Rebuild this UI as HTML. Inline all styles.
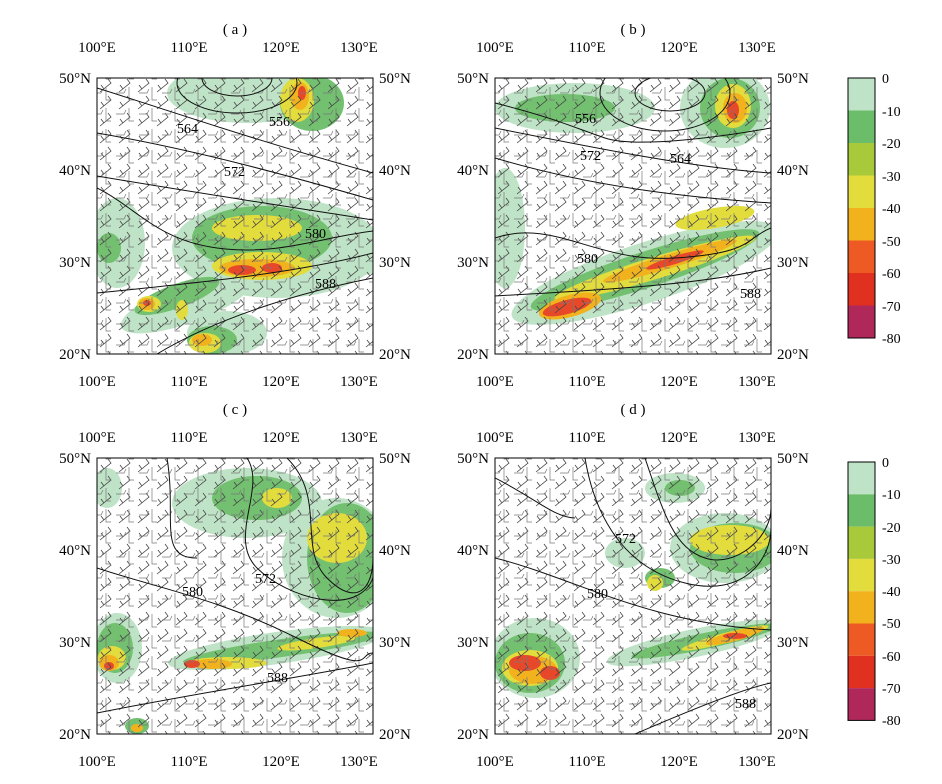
<!DOCTYPE html>
<html><head><meta charset="utf-8"><style>
body{margin:0;background:#fff}
svg{display:block;font-family:"Liberation Serif",serif}
</style></head><body>
<svg width="942" height="784" viewBox="0 0 942 784" xmlns="http://www.w3.org/2000/svg">
<defs>
<pattern id="barb" width="19" height="17" patternUnits="userSpaceOnUse">
<path d="M3,14 L14,5 L11,1 M7,11 L4,7" stroke="#444" stroke-width="0.8" fill="none"/>
</pattern>
<pattern id="barb2" width="23" height="21" patternUnits="userSpaceOnUse" patternTransform="translate(7,5)">
<path d="M2,4 L2,17 L7,17 M12,10 L20,10 L22,6" stroke="#777" stroke-width="0.7" fill="none"/>
</pattern>
<clipPath id="cp"><rect width="276" height="276"/></clipPath>
</defs>
<g fill="#000" font-size="15">
<text x="235" y="34" text-anchor="middle">( a )</text>
<text x="633" y="34" text-anchor="middle">( b )</text>
<text x="235" y="414" text-anchor="middle">( c )</text>
<text x="633" y="414" text-anchor="middle">( d )</text>
</g>

<!-- axis label groups -->
<g id="axA" font-size="15" fill="#000">
</g>

<!-- Panel A -->
<g transform="translate(97,78)">
<g clip-path="url(#cp)">
<rect width="276" height="276" fill="#fff"/>
<g fill="#bfe3c6"><ellipse cx="150" cy="15" rx="80" ry="30"/><ellipse cx="180" cy="170" rx="105" ry="50"/><ellipse cx="20" cy="165" rx="28" ry="45"/><ellipse cx="90" cy="225" rx="70" ry="20" transform="rotate(-20 90 225)"/><ellipse cx="245" cy="185" rx="45" ry="14"/><ellipse cx="130" cy="255" rx="40" ry="22"/></g>
<g fill="#72c070"><ellipse cx="215" cy="25" rx="32" ry="28"/><ellipse cx="165" cy="160" rx="70" ry="32"/><ellipse cx="80" cy="218" rx="45" ry="12" transform="rotate(-20 80 218)"/><ellipse cx="115" cy="262" rx="25" ry="14"/><ellipse cx="12" cy="170" rx="12" ry="15"/></g>
<g fill="#e2dc3d"><ellipse cx="200" cy="22" rx="17" ry="22"/><ellipse cx="160" cy="150" rx="45" ry="13"/><ellipse cx="165" cy="188" rx="50" ry="14"/><ellipse cx="52" cy="226" rx="12" ry="8"/><ellipse cx="108" cy="265" rx="16" ry="10"/><ellipse cx="85" cy="232" rx="6" ry="10"/></g>
<g fill="#f2b21e"><ellipse cx="203" cy="18" rx="9" ry="14"/><ellipse cx="160" cy="190" rx="38" ry="9"/><ellipse cx="50" cy="226" rx="8" ry="6"/><ellipse cx="105" cy="262" rx="10" ry="6"/></g>
<g fill="#e8482a"><ellipse cx="145" cy="192" rx="14" ry="5"/><ellipse cx="175" cy="190" rx="10" ry="5"/><ellipse cx="205" cy="15" rx="4" ry="7"/><ellipse cx="50" cy="225" rx="4" ry="3"/></g>
<rect width="276" height="276" fill="url(#barb)"/><rect width="276" height="276" fill="url(#barb2)"/>
<g fill="none" stroke="#111" stroke-width="1">
<ellipse cx="140" cy="5" rx="60" ry="30"/><ellipse cx="140" cy="0" rx="35" ry="18"/>
<path d="M0,10 C80,35 150,60 276,95"/><path d="M0,55 C100,72 200,100 276,122"/><path d="M0,98 C100,115 200,130 276,142"/>
<path d="M0,110 C40,130 60,162 120,170 S220,160 276,153"/><path d="M0,215 C100,205 200,195 276,175"/><path d="M60,276 C120,240 200,215 276,200"/>
</g>
<g font-size="14" fill="#000"><text x="80" y="55">564</text><text x="172" y="48">556</text><text x="127" y="98">572</text><text x="208" y="160">580</text><text x="218" y="210">588</text></g>
</g>
<rect width="276" height="276" fill="none" stroke="#000" stroke-width="1"/>
</g>

<!-- Panel B -->
<g transform="translate(495,78)">
<g clip-path="url(#cp)">
<g fill="#bfe3c6"><ellipse cx="80" cy="30" rx="80" ry="25"/><ellipse cx="230" cy="30" rx="45" ry="40"/><ellipse cx="150" cy="195" rx="140" ry="30" transform="rotate(-18 150 195)"/><ellipse cx="10" cy="150" rx="20" ry="60"/></g>
<g fill="#72c070"><ellipse cx="70" cy="30" rx="50" ry="14"/><ellipse cx="235" cy="30" rx="30" ry="30"/><ellipse cx="150" cy="192" rx="120" ry="18" transform="rotate(-18 150 192)"/></g>
<g fill="#e2dc3d"><ellipse cx="238" cy="28" rx="18" ry="22"/><ellipse cx="160" cy="190" rx="105" ry="11" transform="rotate(-17 160 190)"/><ellipse cx="220" cy="140" rx="40" ry="10" transform="rotate(-10 220 140)"/></g>
<g fill="#f2b21e"><ellipse cx="240" cy="30" rx="12" ry="15"/><ellipse cx="175" cy="183" rx="70" ry="7" transform="rotate(-17 175 183)"/><ellipse cx="75" cy="228" rx="32" ry="11" transform="rotate(-15 75 228)"/></g>
<g fill="#e8482a"><ellipse cx="72" cy="229" rx="25" ry="7" transform="rotate(-15 72 229)"/><ellipse cx="238" cy="32" rx="6" ry="9"/><ellipse cx="180" cy="182" rx="30" ry="4" transform="rotate(-17 180 182)"/></g>
<rect width="276" height="276" fill="url(#barb)"/><rect width="276" height="276" fill="url(#barb2)"/>
<g fill="none" stroke="#111" stroke-width="1">
<ellipse cx="175" cy="15" rx="35" ry="18"/><ellipse cx="170" cy="15" rx="65" ry="38"/>
<path d="M0,25 C60,40 80,50 110,60 S220,60 276,50"/><path d="M0,50 C100,70 200,90 276,95"/><path d="M0,80 C100,110 200,120 276,125"/>
<path d="M0,160 C60,140 100,185 180,180 S250,160 276,150"/><path d="M0,218 C100,212 200,208 276,190"/>
</g>
<g font-size="14" fill="#000"><text x="80" y="45">556</text><text x="175" y="85">564</text><text x="85" y="82">572</text><text x="82" y="185">580</text><text x="245" y="220">588</text></g>
</g>
<rect width="276" height="276" fill="none" stroke="#000" stroke-width="1"/>
</g>

<!-- Panel C -->
<g transform="translate(97,458)">
<g clip-path="url(#cp)">
<g fill="#bfe3c6"><ellipse cx="150" cy="45" rx="75" ry="35"/><ellipse cx="240" cy="100" rx="55" ry="60"/><ellipse cx="20" cy="190" rx="25" ry="35"/><ellipse cx="180" cy="190" rx="110" ry="16" transform="rotate(-8 180 190)"/><ellipse cx="10" cy="30" rx="15" ry="20"/></g>
<g fill="#72c070"><ellipse cx="160" cy="40" rx="45" ry="22"/><ellipse cx="250" cy="100" rx="40" ry="55"/><ellipse cx="18" cy="190" rx="18" ry="25"/><ellipse cx="185" cy="190" rx="100" ry="9" transform="rotate(-8 185 190)"/><ellipse cx="40" cy="268" rx="12" ry="8"/></g>
<g fill="#e2dc3d"><ellipse cx="240" cy="80" rx="30" ry="25"/><ellipse cx="180" cy="40" rx="15" ry="10"/><ellipse cx="15" cy="200" rx="14" ry="12"/><ellipse cx="130" cy="205" rx="40" ry="6"/><ellipse cx="220" cy="185" rx="40" ry="5" transform="rotate(-8 220 185)"/></g>
<g fill="#f2b21e"><ellipse cx="12" cy="205" rx="10" ry="8"/><ellipse cx="115" cy="206" rx="20" ry="5"/><ellipse cx="40" cy="270" rx="6" ry="4"/><ellipse cx="255" cy="175" rx="15" ry="4"/></g>
<g fill="#e8482a"><ellipse cx="95" cy="206" rx="8" ry="4"/><ellipse cx="12" cy="208" rx="5" ry="4"/></g>
<rect width="276" height="276" fill="url(#barb)"/><rect width="276" height="276" fill="url(#barb2)"/>
<g fill="none" stroke="#111" stroke-width="1">
<path d="M150,0 C170,30 130,80 160,110 S260,160 276,120"/><path d="M190,0 C230,40 200,90 230,120 S276,130 276,100"/>
<path d="M0,110 C60,130 120,140 200,180 S260,195 276,195"/><path d="M0,255 C100,235 200,220 276,205"/>
<path d="M70,0 C80,60 60,100 100,100"/>
</g>
<g font-size="14" fill="#000"><text x="85" y="138">580</text><text x="158" y="125">572</text><text x="170" y="224">588</text></g>
</g>
<rect width="276" height="276" fill="none" stroke="#000" stroke-width="1"/>
</g>

<!-- Panel D -->
<g transform="translate(495,458)">
<g clip-path="url(#cp)">
<g fill="#bfe3c6"><ellipse cx="230" cy="90" rx="55" ry="35"/><ellipse cx="40" cy="200" rx="45" ry="40"/><ellipse cx="200" cy="185" rx="90" ry="14" transform="rotate(-12 200 185)"/><ellipse cx="180" cy="30" rx="30" ry="15"/><ellipse cx="130" cy="95" rx="20" ry="15"/></g>
<g fill="#72c070"><ellipse cx="240" cy="90" rx="45" ry="25"/><ellipse cx="35" cy="205" rx="35" ry="30"/><ellipse cx="210" cy="183" rx="75" ry="8" transform="rotate(-12 210 183)"/><ellipse cx="185" cy="30" rx="15" ry="8"/><ellipse cx="165" cy="120" rx="15" ry="10"/></g>
<g fill="#e2dc3d"><ellipse cx="235" cy="82" rx="40" ry="15"/><ellipse cx="35" cy="210" rx="28" ry="18"/><ellipse cx="230" cy="180" rx="45" ry="5" transform="rotate(-15 230 180)"/><ellipse cx="160" cy="125" rx="8" ry="8"/></g>
<g fill="#f2b21e"><ellipse cx="38" cy="212" rx="24" ry="14"/><ellipse cx="240" cy="178" rx="30" ry="5" transform="rotate(-15 240 178)"/></g>
<g fill="#e8482a"><ellipse cx="30" cy="205" rx="16" ry="8"/><ellipse cx="55" cy="215" rx="10" ry="7"/><ellipse cx="240" cy="178" rx="12" ry="3"/></g>
<rect width="276" height="276" fill="url(#barb)"/><rect width="276" height="276" fill="url(#barb2)"/>
<g fill="none" stroke="#111" stroke-width="1">
<path d="M90,0 C100,60 130,110 190,125 S276,100 276,70"/><path d="M150,0 C170,60 180,90 210,100 S276,80 276,50"/>
<path d="M0,100 C80,120 150,165 276,172"/><path d="M140,276 C200,250 250,230 276,225"/><path d="M0,20 C40,40 60,60 80,60"/>
</g>
<g font-size="14" fill="#000"><text x="92" y="140">580</text><text x="120" y="85">572</text><text x="240" y="250">588</text></g>
</g>
<rect width="276" height="276" fill="none" stroke="#000" stroke-width="1"/>
</g>

<!-- Axis labels -->
<g font-size="15" fill="#000" text-anchor="middle">
<text x="97" y="52">100°E</text><text x="189" y="52">110°E</text><text x="281" y="52">120°E</text><text x="359" y="52">130°E</text>
<text x="97" y="386">100°E</text><text x="189" y="386">110°E</text><text x="281" y="386">120°E</text><text x="359" y="386">130°E</text>
<text x="495" y="52">100°E</text><text x="587" y="52">110°E</text><text x="679" y="52">120°E</text><text x="757" y="52">130°E</text>
<text x="495" y="386">100°E</text><text x="587" y="386">110°E</text><text x="679" y="386">120°E</text><text x="757" y="386">130°E</text>
<text x="97" y="442">100°E</text><text x="189" y="442">110°E</text><text x="281" y="442">120°E</text><text x="359" y="442">130°E</text>
<text x="97" y="766">100°E</text><text x="189" y="766">110°E</text><text x="281" y="766">120°E</text><text x="359" y="766">130°E</text>
<text x="495" y="442">100°E</text><text x="587" y="442">110°E</text><text x="679" y="442">120°E</text><text x="757" y="442">130°E</text>
<text x="495" y="766">100°E</text><text x="587" y="766">110°E</text><text x="679" y="766">120°E</text><text x="757" y="766">130°E</text>
</g>
<g font-size="15" fill="#000">
<g text-anchor="end">
<text x="91" y="83">50°N</text><text x="91" y="175">40°N</text><text x="91" y="267">30°N</text><text x="91" y="359">20°N</text>
<text x="489" y="83">50°N</text><text x="489" y="175">40°N</text><text x="489" y="267">30°N</text><text x="489" y="359">20°N</text>
<text x="91" y="463">50°N</text><text x="91" y="555">40°N</text><text x="91" y="647">30°N</text><text x="91" y="739">20°N</text>
<text x="489" y="463">50°N</text><text x="489" y="555">40°N</text><text x="489" y="647">30°N</text><text x="489" y="739">20°N</text>
</g>
<text x="379" y="83">50°N</text><text x="379" y="175">40°N</text><text x="379" y="267">30°N</text><text x="379" y="359">20°N</text>
<text x="777" y="83">50°N</text><text x="777" y="175">40°N</text><text x="777" y="267">30°N</text><text x="777" y="359">20°N</text>
<text x="379" y="463">50°N</text><text x="379" y="555">40°N</text><text x="379" y="647">30°N</text><text x="379" y="739">20°N</text>
<text x="777" y="463">50°N</text><text x="777" y="555">40°N</text><text x="777" y="647">30°N</text><text x="777" y="739">20°N</text>
</g>

<!-- Colorbars -->
<g transform="translate(848,78)">
<rect y="0" width="27" height="32.5" fill="#bfe3c6"/><rect y="32.5" width="27" height="32.5" fill="#6cbd6a"/><rect y="65" width="27" height="32.5" fill="#a7c93a"/><rect y="97.5" width="27" height="32.5" fill="#e2dc3d"/><rect y="130" width="27" height="32.5" fill="#f2b21e"/><rect y="162.5" width="27" height="32.5" fill="#ee5a23"/><rect y="195" width="27" height="32.5" fill="#e0301f"/><rect y="227.5" width="27" height="32.5" fill="#b0285a"/>
<rect width="27" height="260" fill="none" stroke="#000"/>
<g font-size="14" fill="#000"><text x="34" y="5">0</text><text x="34" y="38">-10</text><text x="34" y="70">-20</text><text x="34" y="103">-30</text><text x="34" y="135">-40</text><text x="34" y="168">-50</text><text x="34" y="200">-60</text><text x="34" y="233">-70</text><text x="34" y="265">-80</text></g>
</g>
<g transform="translate(848,462)">
<rect y="0" width="27" height="32.3" fill="#bfe3c6"/><rect y="32.3" width="27" height="32.3" fill="#6cbd6a"/><rect y="64.6" width="27" height="32.3" fill="#a7c93a"/><rect y="96.9" width="27" height="32.3" fill="#e2dc3d"/><rect y="129.2" width="27" height="32.3" fill="#f2b21e"/><rect y="161.5" width="27" height="32.3" fill="#ee5a23"/><rect y="193.8" width="27" height="32.3" fill="#e0301f"/><rect y="226.1" width="27" height="32.3" fill="#b0285a"/>
<rect width="27" height="258.4" fill="none" stroke="#000"/>
<g font-size="14" fill="#000"><text x="34" y="5">0</text><text x="34" y="37">-10</text><text x="34" y="70">-20</text><text x="34" y="102">-30</text><text x="34" y="134">-40</text><text x="34" y="166">-50</text><text x="34" y="199">-60</text><text x="34" y="231">-70</text><text x="34" y="263">-80</text></g>
</g>
</svg>
</body></html>
